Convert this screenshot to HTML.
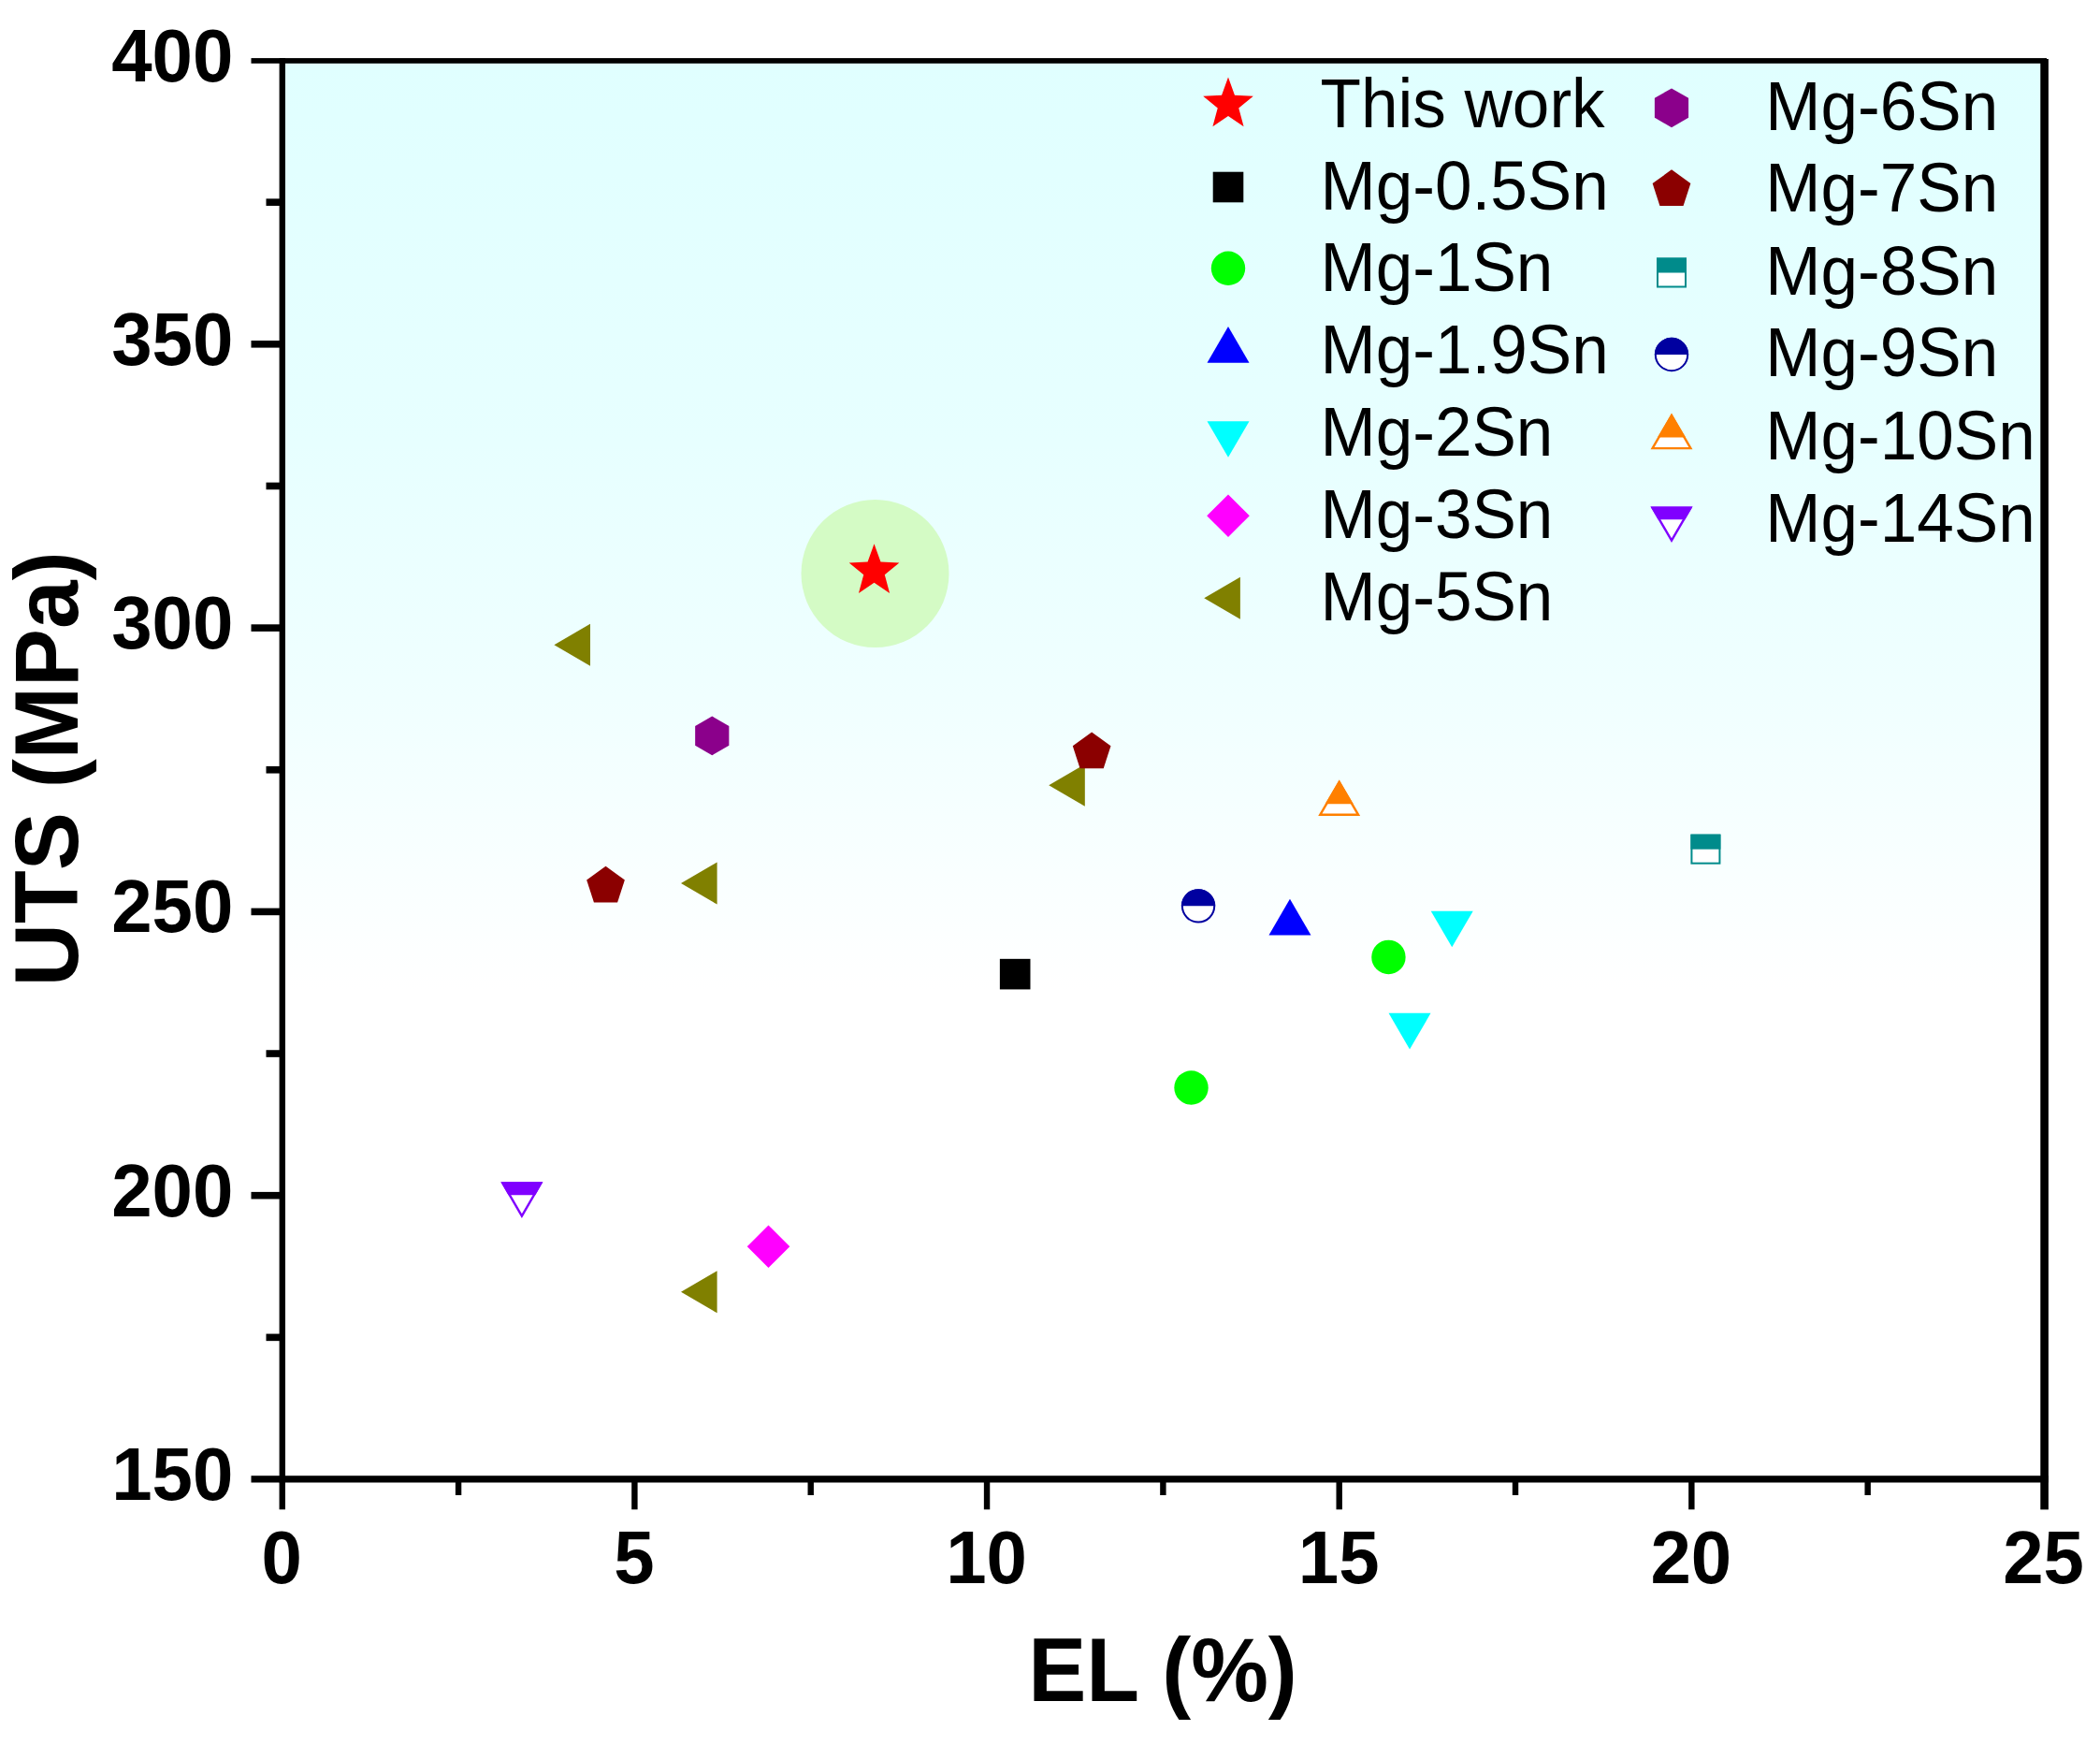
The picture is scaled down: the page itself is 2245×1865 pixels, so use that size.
<!DOCTYPE html>
<html lang="en"><head><meta charset="utf-8"><title>UTS vs EL of Mg-Sn alloys</title>
<style>
html,body{margin:0;padding:0;background:#fff;}
body{width:2245px;height:1865px;overflow:hidden;}
svg{display:block;}
text{font-family:"Liberation Sans",Arial,Helvetica,sans-serif;fill:#000;}
.tick{font-weight:bold;font-size:78px;}
.title{font-weight:bold;font-size:93px;}
.leg{font-size:71.1px;}
</style></head><body>
<svg role="img" aria-label="UTS versus EL scatter chart of Mg-Sn alloys" width="2245" height="1865" viewBox="0 0 2245 1865">
<defs>
<linearGradient id="bg" x1="0" y1="0" x2="0" y2="1">
<stop offset="0" stop-color="#e0ffff"/>
<stop offset="0.27" stop-color="#e7ffff"/>
<stop offset="0.435" stop-color="#efffff"/>
<stop offset="0.56" stop-color="#f8ffff"/>
<stop offset="0.655" stop-color="#ffffff"/>
<stop offset="1" stop-color="#ffffff"/>
</linearGradient>
</defs>
<rect x="0" y="0" width="2245" height="1865" fill="#ffffff"/>
<rect x="301.75" y="64.5" width="1883.25" height="1516.5" fill="url(#bg)"/>

<circle cx="935.52" cy="612.94" r="79" fill="#d4fbc5"/>
<g fill="#000">
<rect x="268.5" y="62.1" width="1919.5" height="5.7"/>
<rect x="298.6" y="62.1" width="6.4" height="1522.4"/>
<rect x="268.5" y="1577.2" width="1921.4" height="7.3"/>
<rect x="2181.3" y="63" width="8.6" height="1550.4"/>
<rect x="284.5" y="1425.55" width="15" height="7.6"/>
<rect x="268.5" y="1273.9" width="31" height="7.6"/>
<rect x="284.5" y="1122.25" width="15" height="7.6"/>
<rect x="268.5" y="970.6" width="31" height="7.6"/>
<rect x="284.5" y="818.95" width="15" height="7.6"/>
<rect x="268.5" y="667.3" width="31" height="7.6"/>
<rect x="284.5" y="515.65" width="15" height="7.6"/>
<rect x="268.5" y="364" width="31" height="7.6"/>
<rect x="284.5" y="212.35" width="15" height="7.6"/>
<rect x="298.55" y="1584" width="6.4" height="29.3"/>
<rect x="486.88" y="1584" width="6.4" height="14"/>
<rect x="675.2" y="1584" width="6.4" height="29.3"/>
<rect x="863.52" y="1584" width="6.4" height="14"/>
<rect x="1051.85" y="1584" width="6.4" height="29.3"/>
<rect x="1240.17" y="1584" width="6.4" height="14"/>
<rect x="1428.5" y="1584" width="6.4" height="29.3"/>
<rect x="1616.83" y="1584" width="6.4" height="14"/>
<rect x="1805.15" y="1584" width="6.4" height="29.3"/>
<rect x="1993.47" y="1584" width="6.4" height="14"/>
</g>
<text class="tick" text-anchor="end" transform="translate(249.3,1603) scale(1,1.03)">150</text>
<text class="tick" text-anchor="end" transform="translate(249.3,1299.7) scale(1,1.03)">200</text>
<text class="tick" text-anchor="end" transform="translate(249.3,996.4) scale(1,1.03)">250</text>
<text class="tick" text-anchor="end" transform="translate(249.3,693.1) scale(1,1.03)">300</text>
<text class="tick" text-anchor="end" transform="translate(249.3,389.8) scale(1,1.03)">350</text>
<text class="tick" text-anchor="end" transform="translate(249.3,86.5) scale(1,1.03)">400</text>
<text class="tick" text-anchor="middle" transform="translate(301.25,1691.7) scale(1,1.03)">0</text>
<text class="tick" text-anchor="middle" transform="translate(677.9,1691.7) scale(1,1.03)">5</text>
<text class="tick" text-anchor="middle" transform="translate(1054.55,1691.7) scale(1,1.03)">10</text>
<text class="tick" text-anchor="middle" transform="translate(1431.2,1691.7) scale(1,1.03)">15</text>
<text class="tick" text-anchor="middle" transform="translate(1807.85,1691.7) scale(1,1.03)">20</text>
<text class="tick" text-anchor="middle" transform="translate(2184.5,1691.7) scale(1,1.03)">25</text>
<text class="title" text-anchor="middle" transform="translate(1243,1818.3) scale(1,1.03)">EL (%)</text>
<text class="title" text-anchor="middle" transform="translate(83,821.7) rotate(-90) scale(1,1.03)">UTS (MPa)</text>
<polygon points="934.52,581.25 941.48,600.52 961.34,601.42 945.79,614.23 951.1,634.05 934.52,622.7 917.95,634.05 923.26,614.23 907.7,601.42 927.56,600.52" fill="#ff0000"/>
<rect x="1068.88" y="1024.83" width="32.6" height="32.6" fill="#000000"/>
<circle cx="1484.43" cy="1022.93" r="18.2" fill="#00ff00"/>
<circle cx="1273.51" cy="1162.45" r="18.2" fill="#00ff00"/>
<polygon points="1378.97,960.8 1401.47,999.4 1356.47,999.4" fill="#0000ff"/>
<polygon points="1552.23,1012.27 1574.73,973.67 1529.73,973.67" fill="#00ffff"/>
<polygon points="1507.03,1121.45 1529.53,1082.85 1484.53,1082.85" fill="#00ffff"/>
<polygon points="821.53,1309.49 844.33,1332.29 821.53,1355.09 798.73,1332.29" fill="#ff00ff"/>
<polygon points="592.4,689.3 631,666.8 631,711.8" fill="#808000"/>
<polygon points="1121.22,839.13 1159.82,816.63 1159.82,861.63" fill="#808000"/>
<polygon points="728,944.07 766.6,921.57 766.6,966.57" fill="#808000"/>
<polygon points="728,1380.82 766.6,1358.32 766.6,1403.32" fill="#808000"/>
<polygon points="761.26,765.45 779.36,775.9 779.36,796.8 761.26,807.25 743.16,796.8 743.16,775.9" fill="#8b008b"/>
<polygon points="1167.14,782.55 1187.49,797.33 1179.72,821.26 1154.56,821.26 1146.79,797.33" fill="#8b0000"/>
<polygon points="647.51,925.7 667.87,940.49 660.09,964.42 634.94,964.42 627.16,940.49" fill="#8b0000"/>
<rect x="1808.42" y="892.67" width="30" height="30" fill="#fff" stroke="#008b8b" stroke-width="2"/><rect x="1807.42" y="891.67" width="32" height="16" fill="#008b8b"/>
<circle cx="1281.04" cy="968.33" r="17.2" fill="#fff" stroke="#0000a0" stroke-width="2"/><path d="M1262.84,968.33 A18.2,18.2 0 0 1 1299.24,968.33 Z" fill="#0000a0"/>
<polygon points="1431.7,835.81 1452.1,870.81 1411.3,870.81" fill="#fff" stroke="#ff8000" stroke-width="2.4" stroke-linejoin="miter"/><polygon points="1431.7,833.41 1446.7,859.15 1416.7,859.15" fill="#ff8000"/>
<polygon points="557.87,1299.53 578.27,1264.53 537.47,1264.53" fill="#fff" stroke="#8000ff" stroke-width="2.4" stroke-linejoin="miter"/><polygon points="535.37,1263.33 580.37,1263.33 572.29,1277.2 543.45,1277.2" fill="#8000ff"/>
<polygon points="1313,82.51 1319.96,101.78 1339.82,102.68 1324.26,115.49 1329.58,135.31 1313,123.96 1296.42,135.31 1301.74,115.49 1286.18,102.68 1306.04,101.78" fill="#ff0000"/>
<text class="leg" text-anchor="start" transform="translate(1411.5,136.2) scale(1,1.04)">This work</text>
<rect x="1296.7" y="183.7" width="32.6" height="32.6" fill="#000000"/>
<text class="leg" text-anchor="start" transform="translate(1411.5,224.2) scale(1,1.04)">Mg-0.5Sn</text>
<circle cx="1313" cy="286.8" r="18.2" fill="#00ff00"/>
<text class="leg" text-anchor="start" transform="translate(1411.5,311.2) scale(1,1.04)">Mg-1Sn</text>
<polygon points="1313,349.07 1335.5,387.67 1290.5,387.67" fill="#0000ff"/>
<text class="leg" text-anchor="start" transform="translate(1411.5,399) scale(1,1.04)">Mg-1.9Sn</text>
<polygon points="1313,488.73 1335.5,450.13 1290.5,450.13" fill="#00ffff"/>
<text class="leg" text-anchor="start" transform="translate(1411.5,486.8) scale(1,1.04)">Mg-2Sn</text>
<polygon points="1313,528.5 1335.8,551.3 1313,574.1 1290.2,551.3" fill="#ff00ff"/>
<text class="leg" text-anchor="start" transform="translate(1411.5,575) scale(1,1.04)">Mg-3Sn</text>
<polygon points="1287.27,639.3 1325.87,616.8 1325.87,661.8" fill="#808000"/>
<text class="leg" text-anchor="start" transform="translate(1411.5,662.9) scale(1,1.04)">Mg-5Sn</text>
<polygon points="1787,94.4 1805.1,104.85 1805.1,125.75 1787,136.2 1768.9,125.75 1768.9,104.85" fill="#8b008b"/>
<text class="leg" text-anchor="start" transform="translate(1887.3,138.6) scale(1,1.04)">Mg-6Sn</text>
<polygon points="1787,181.3 1807.35,196.09 1799.58,220.01 1774.42,220.01 1766.65,196.09" fill="#8b0000"/>
<text class="leg" text-anchor="start" transform="translate(1887.3,226) scale(1,1.04)">Mg-7Sn</text>
<rect x="1772" y="276.5" width="30" height="30" fill="#fff" stroke="#008b8b" stroke-width="2"/><rect x="1771" y="275.5" width="32" height="16" fill="#008b8b"/>
<text class="leg" text-anchor="start" transform="translate(1887.3,314.6) scale(1,1.04)">Mg-8Sn</text>
<circle cx="1787" cy="379" r="17.2" fill="#fff" stroke="#0000a0" stroke-width="2"/><path d="M1768.8,379 A18.2,18.2 0 0 1 1805.2,379 Z" fill="#0000a0"/>
<text class="leg" text-anchor="start" transform="translate(1887.3,402.1) scale(1,1.04)">Mg-9Sn</text>
<polygon points="1787,444.17 1807.4,479.17 1766.6,479.17" fill="#fff" stroke="#ff8000" stroke-width="2.4" stroke-linejoin="miter"/><polygon points="1787,441.77 1802,467.5 1772,467.5" fill="#ff8000"/>
<text class="leg" text-anchor="start" transform="translate(1887.3,490.5) scale(1,1.04)">Mg-10Sn</text>
<polygon points="1787,577.63 1807.4,542.63 1766.6,542.63" fill="#fff" stroke="#8000ff" stroke-width="2.4" stroke-linejoin="miter"/><polygon points="1764.5,541.43 1809.5,541.43 1801.42,555.3 1772.58,555.3" fill="#8000ff"/>
<text class="leg" text-anchor="start" transform="translate(1887.3,578.6) scale(1,1.04)">Mg-14Sn</text>
</svg>
</body></html>
